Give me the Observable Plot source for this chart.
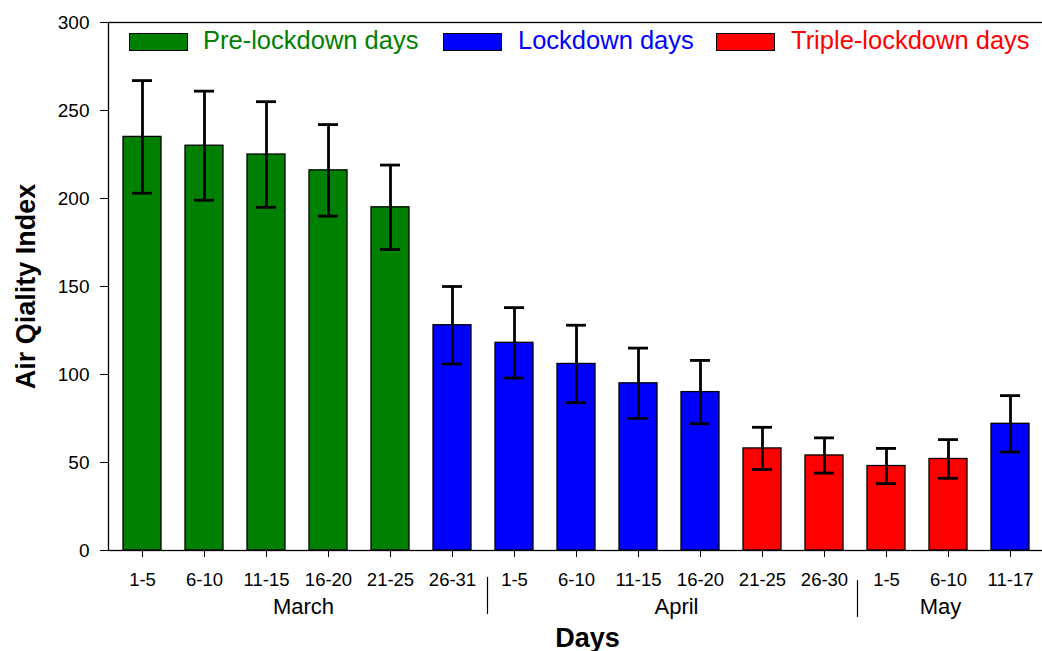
<!DOCTYPE html>
<html>
<head>
<meta charset="utf-8">
<script src="https://cdn.jsdelivr.net/npm/d3@7"></script>
<script src="https://cdn.jsdelivr.net/npm/@observablehq/plot@0.6"></script>
<style>
  html, body { margin: 0; padding: 0; overflow: hidden; background: #fff; }
  #wrap { position: relative; width: 1042px; height: 651px; overflow: hidden; }
  .lg-sw { position: absolute; box-sizing: border-box; border: 1.3px solid #000; width: 59px; height: 18px; top: 33px; }
  .lg-tx { position: absolute; font-family: "Liberation Sans", Arial, sans-serif; font-size: 25.5px; line-height: 25px; top: 28px; white-space: nowrap; }
</style>
</head>
<body>
<div id="wrap"></div>
<script>
// ---- data ----
const periods = ["1-5","6-10","11-15","16-20","21-25","26-31","1-5","6-10","11-15","16-20","21-25","26-30","1-5","6-10","11-17"];
const months  = ["March","March","March","March","March","March","April","April","April","April","April","April","May","May","May"];
const aqi     = [235, 230, 225, 216, 195, 128, 118, 106, 95, 90, 58, 54, 48, 52, 72];
const errHi   = [267, 261, 255, 242, 219, 150, 138, 128, 115, 108, 70, 64, 58, 63, 88];
const errLo   = [203, 199, 195, 190, 171, 106, 98, 84, 75, 72, 46, 44, 38, 41, 56];
const phase   = ["Pre-lockdown days","Pre-lockdown days","Pre-lockdown days","Pre-lockdown days","Pre-lockdown days",
                 "Lockdown days","Lockdown days","Lockdown days","Lockdown days","Lockdown days",
                 "Triple-lockdown days","Triple-lockdown days","Triple-lockdown days","Triple-lockdown days",
                 "Lockdown days"];
const phases  = ["Pre-lockdown days", "Lockdown days", "Triple-lockdown days"];
const colors  = ["#008000", "#0000ff", "#ff0000"];
const yTicks  = [0, 50, 100, 150, 200, 250, 300];
const monthLabels = ["March", "April", "May"];

const keys = periods.map((p, i) => months[i] + " " + p);
const data = keys.map((k, i) => ({key: k, aqi: aqi[i], hi: errHi[i], lo: errLo[i], phase: phase[i]}));
const shortLabel = k => k.slice(k.indexOf(" ") + 1);

// month labels: anchored on a bar of each month, shifted to the group centre
const monthMarks = [
  {t: monthLabels[0], key: "March 16-20", dx: -25},
  {t: monthLabels[1], key: "April 16-20", dx: -24},
  {t: monthLabels[2], key: "May 6-10", dx: -8}
].map(m => Plot.text([m], {x: "key", text: "t", dx: m.dx, frameAnchor: "bottom", dy: 56, lineAnchor: "middle", textAnchor: "middle", fontSize: 22}));

const separatorMarks = [
  {key: "March 26-31", dx: 35, y1: -15.3, y2: -36.4},
  {key: "April 26-30", dx: 33, y1: -17, y2: -38}
].map(s => Plot.ruleX([s], {x: "key", dx: s.dx, y1: "y1", y2: "y2", stroke: "#000", strokeWidth: 1.2}));

const chart = Plot.plot({
  width: 1044,
  height: 651,
  marginTop: 22,
  marginBottom: 101,
  marginLeft: 108,
  marginRight: 0,
  style: {fontFamily: "'Liberation Sans', Arial, sans-serif", fontSize: "18.5px", color: "#000", background: "#fff", maxWidth: "none"},
  x: {domain: keys, paddingInner: 0.39, paddingOuter: 0.195, align: 0.5},
  y: {domain: [0, 300]},
  color: {domain: phases, range: colors},
  marks: [
    Plot.barY(data, {x: "key", y: "aqi", fill: "phase", stroke: "#000", strokeWidth: 1.3}),
    Plot.ruleX(data, {x: "key", y1: "lo", y2: "hi", stroke: "#000", strokeWidth: 2.8}),
    Plot.tickY(data, {x: "key", y: "hi", insetLeft: 9, insetRight: 9, stroke: "#000", strokeWidth: 2.8}),
    Plot.tickY(data, {x: "key", y: "lo", insetLeft: 9, insetRight: 9, stroke: "#000", strokeWidth: 2.8}),
    Plot.axisY({ticks: yTicks, tickSize: 8, tickPadding: 11, fontSize: 19, label: null}),
    Plot.axisX({tickSize: 7, tickPadding: 15, fontSize: 18.5, label: null, tickFormat: shortLabel}),
    Plot.frame({stroke: "#000", strokeWidth: 1.3}),
    ...monthMarks,
    ...separatorMarks,
    Plot.text(["Days"], {text: d => d, frameAnchor: "bottom", dy: 88, dx: 11, lineAnchor: "middle", textAnchor: "middle", fontSize: 27, fontWeight: "bold"}),
    Plot.text(["Air Qiality Index"], {text: d => d, frameAnchor: "left", dx: -82, rotate: -90, lineAnchor: "middle", textAnchor: "middle", fontSize: 27, fontWeight: "bold"})
  ]
});

const wrap = document.getElementById("wrap");
wrap.appendChild(chart);

// legend overlay
const legendPos = [{sw: 129, tx: 203}, {sw: 443, tx: 518}, {sw: 716, tx: 791}];
phases.forEach((p, i) => {
  const sw = document.createElement("div");
  sw.className = "lg-sw";
  sw.style.left = legendPos[i].sw + "px";
  sw.style.background = colors[i];
  wrap.appendChild(sw);
  const tx = document.createElement("div");
  tx.className = "lg-tx";
  tx.style.left = legendPos[i].tx + "px";
  tx.style.color = colors[i];
  tx.textContent = p;
  wrap.appendChild(tx);
});
</script>
</body>
</html>
